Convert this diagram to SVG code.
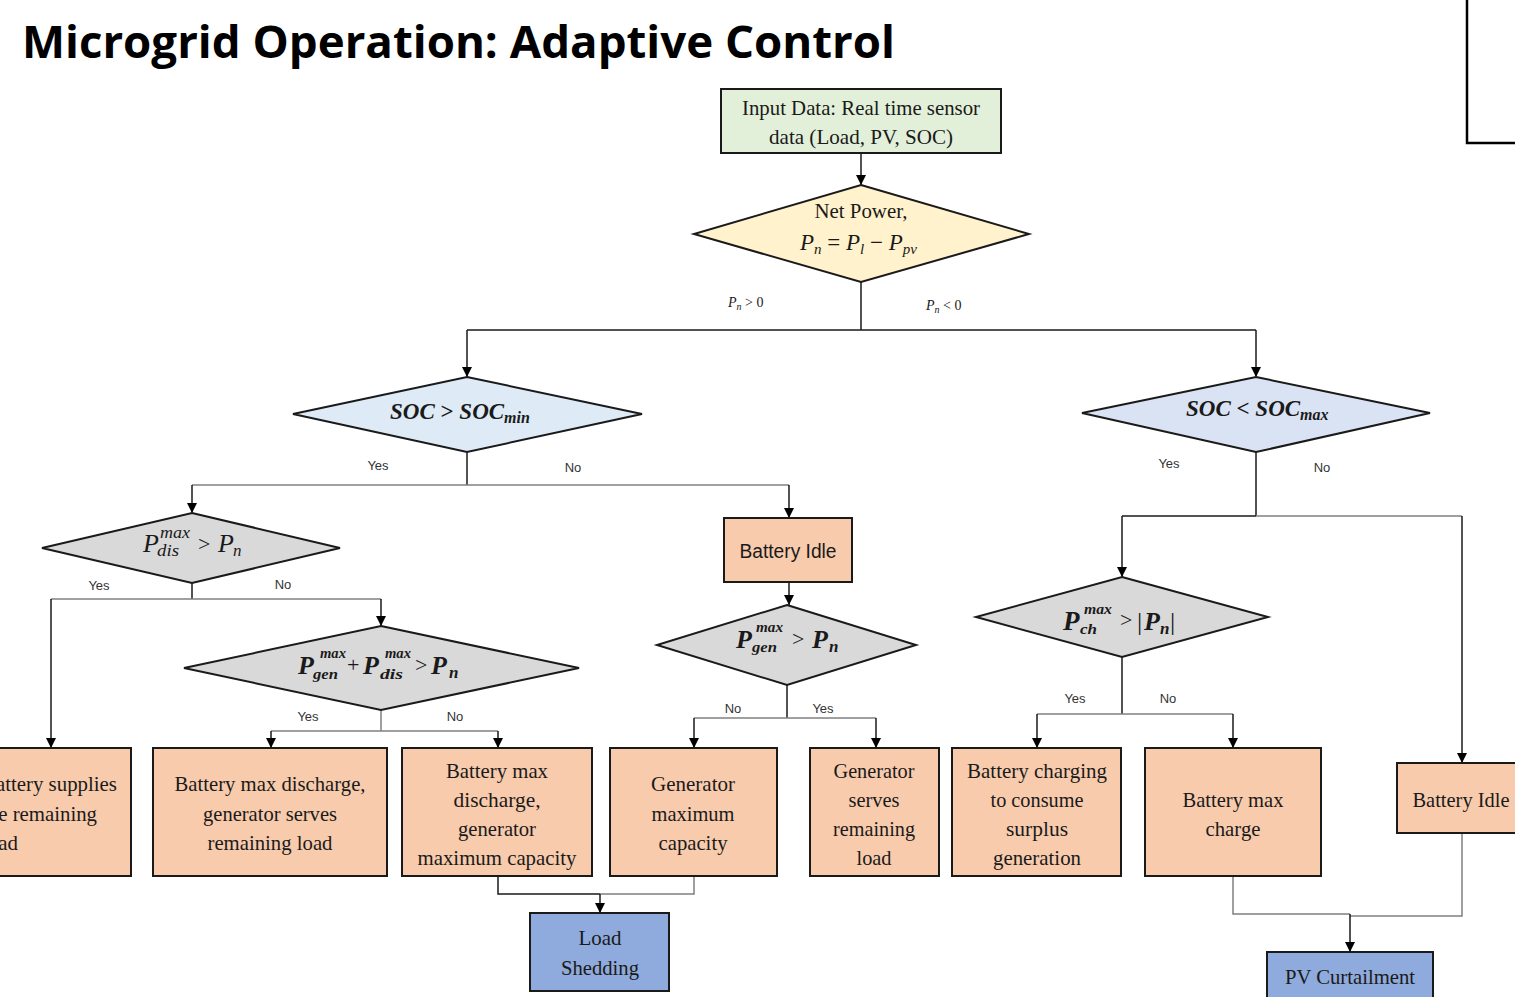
<svg xmlns="http://www.w3.org/2000/svg" width="1515" height="997" viewBox="0 0 1515 997">
<defs>
<marker id="ah" markerWidth="10" markerHeight="12" refX="10" refY="5" orient="auto" markerUnits="userSpaceOnUse" viewBox="0 0 10 10">
<path d="M0,0 L10,5 L0,10 z" fill="#000"/>
</marker>
<style>
.box{fill:#f8cbad;stroke:#1a1a1a;stroke-width:2}
.blue{fill:#8faadc;stroke:#1a1a1a;stroke-width:2}
.dia{stroke:#1a1a1a;stroke-width:2}
.gray{fill:#d9d9d9}
.t{font-family:"Liberation Serif",serif;font-size:22px;fill:#1a1a1a;text-anchor:middle}
.ts{font-family:"Liberation Sans",sans-serif;font-size:20px;fill:#1a1a1a;text-anchor:middle}
.lbl{font-family:"Liberation Sans",sans-serif;font-size:13px;fill:#333}
.mi{font-family:"Liberation Serif",serif;font-style:italic;fill:#1a1a1a}
.mb{font-family:"Liberation Serif",serif;font-style:italic;font-weight:bold;fill:#1a1a1a}
.mr{font-family:"Liberation Serif",serif;fill:#1a1a1a}
.c{fill:none;stroke:#1a1a1a;stroke-width:1.5}
.cg{fill:none;stroke:#808080;stroke-width:1.5}
.ca{fill:none;stroke:#1a1a1a;stroke-width:1.5;marker-end:url(#ah)}
</style>
</defs>
<rect width="1515" height="997" fill="#fff"/>
<text x="22" y="58" font-family="Open Sans, sans-serif" font-weight="bold" font-size="44" fill="#000" textLength="873" lengthAdjust="spacingAndGlyphs">Microgrid Operation: Adaptive Control</text>
<path d="M1467,0 V143 H1515" fill="none" stroke="#000" stroke-width="2.5"/>

<g id="connectors">
<path class="ca" d="M861,153 V185"/>
<path class="c" d="M861,282 V330 M467,330 H1256"/>
<path class="ca" d="M467,330 V377"/>
<path class="ca" d="M1256,330 V377"/>
<path class="c" d="M467,452 V485"/>
<path class="cg" d="M192,485 H789"/>
<path class="ca" d="M192,485 V513"/>
<path class="ca" d="M789,485 V518"/>
<path class="c" d="M192,583 V599"/>
<path class="cg" d="M51,599 H381"/>
<path class="ca" d="M51,599 V748"/>
<path class="ca" d="M381,599 V626"/>
<path class="cg" d="M381,710 V731 M271,731 H498"/>
<path class="ca" d="M271,731 V748"/>
<path class="ca" d="M498,731 V748"/>
<path class="ca" d="M789,582 V605"/>
<path class="c" d="M787,685 V718"/>
<path class="cg" d="M694,718 H876"/>
<path class="ca" d="M694,718 V748"/>
<path class="ca" d="M876,718 V748"/>
<path class="c" d="M1256,452 V516 M1122,516 H1256"/>
<path class="cg" d="M1256,516 H1462"/>
<path class="ca" d="M1122,516 V577"/>
<path class="ca" d="M1462,516 V763"/>
<path class="c" d="M1122,657 V714"/>
<path class="cg" d="M1037,714 H1233"/>
<path class="ca" d="M1037,714 V748"/>
<path class="ca" d="M1233,714 V748"/>
<path class="c" d="M498,876 V894 H600"/>
<path class="cg" d="M694,876 V894 H600"/>
<path class="ca" d="M600,894 V913"/>
<path class="cg" d="M1233,876 V914 H1350 M1462,833 V916 H1350"/>
<path class="ca" d="M1350,914 V952"/>
</g>

<g id="labels">
<text class="mi" x="728" y="307" font-size="14">P<tspan font-size="10" dy="3">n</tspan><tspan class="mr" font-style="normal" dy="-3"> &gt; 0</tspan></text>
<text class="mi" x="926" y="310" font-size="14">P<tspan font-size="10" dy="3">n</tspan><tspan font-style="normal" dy="-3"> &lt; 0</tspan></text>
<text class="lbl" x="378" y="470" text-anchor="middle">Yes</text>
<text class="lbl" x="573" y="472" text-anchor="middle">No</text>
<text class="lbl" x="1169" y="468" text-anchor="middle">Yes</text>
<text class="lbl" x="1322" y="472" text-anchor="middle">No</text>
<text class="lbl" x="99" y="590" text-anchor="middle">Yes</text>
<text class="lbl" x="283" y="589" text-anchor="middle">No</text>
<text class="lbl" x="308" y="721" text-anchor="middle">Yes</text>
<text class="lbl" x="455" y="721" text-anchor="middle">No</text>
<text class="lbl" x="733" y="713" text-anchor="middle">No</text>
<text class="lbl" x="823" y="713" text-anchor="middle">Yes</text>
<text class="lbl" x="1075" y="703" text-anchor="middle">Yes</text>
<text class="lbl" x="1168" y="703" text-anchor="middle">No</text>
</g>

<g id="input">
<rect x="721" y="89" width="280" height="64" fill="#e2f0d9" stroke="#1a1a1a" stroke-width="2"/>
<text class="t" x="861" y="115" textLength="238" lengthAdjust="spacingAndGlyphs">Input Data: Real time sensor</text>
<text class="t" x="861" y="144" textLength="184" lengthAdjust="spacingAndGlyphs">data (Load, PV, SOC)</text>
</g>

<g id="netpower">
<polygon class="dia" points="861,185 1029,234 861,282 694,234" fill="#fff2cc"/>
<text class="t" x="861" y="218" textLength="93" lengthAdjust="spacingAndGlyphs">Net Power,</text>
<text class="mi" x="800" y="250" font-size="23">P<tspan font-size="15" dy="4">n</tspan><tspan font-style="normal" dy="-4"> =  </tspan>P<tspan font-size="15" dy="4">l</tspan><tspan font-style="normal" dy="-4"> − </tspan>P<tspan font-size="15" dy="4">pv</tspan></text>
</g>

<g id="soc-min">
<polygon class="dia" points="467,377 642,414 467,452 293,414" fill="#deebf7"/>
<text class="mb" x="390" y="419" font-size="23">SOC <tspan font-style="normal">&gt;</tspan> SOC<tspan font-size="16" dy="4">min</tspan></text>
</g>

<g id="soc-max">
<polygon class="dia" points="1256,377 1430,413 1256,452 1082,413" fill="#dae3f3"/>
<text class="mb" x="1186" y="416" font-size="23">SOC <tspan font-style="normal">&lt;</tspan> SOC<tspan font-size="16" dy="4">max</tspan></text>
</g>

<g id="pdis">
<polygon class="dia gray" points="192,513 340,548 192,583 42,548"/>
<text class="mi" x="143" y="552" font-size="26">P</text>
<text class="mi" x="160" y="538" font-size="16" textLength="30" lengthAdjust="spacingAndGlyphs">max</text>
<text class="mi" x="157" y="556" font-size="16" textLength="22" lengthAdjust="spacingAndGlyphs">dis</text>
<text class="mr" x="198" y="551" font-size="22">&gt;</text>
<text class="mi" x="218" y="552" font-size="26">P</text>
<text class="mi" x="233" y="556" font-size="17">n</text>
</g>

<g id="pgendis">
<polygon class="dia gray" points="381,626 579,668 381,710 184,668"/>
<text class="mb" x="298" y="674" font-size="26">P</text>
<text class="mb" x="320" y="658" font-size="15" textLength="26" lengthAdjust="spacingAndGlyphs">max</text>
<text class="mb" x="313" y="679" font-size="15" textLength="25" lengthAdjust="spacingAndGlyphs">gen</text>
<text class="mr" x="347" y="672" font-size="22">+</text>
<text class="mb" x="363" y="674" font-size="26">P</text>
<text class="mb" x="385" y="658" font-size="15" textLength="26" lengthAdjust="spacingAndGlyphs">max</text>
<text class="mb" x="380" y="679" font-size="15" textLength="23" lengthAdjust="spacingAndGlyphs">dis</text>
<text class="mr" x="415" y="672" font-size="22">&gt;</text>
<text class="mb" x="431" y="674" font-size="26">P</text>
<text class="mb" x="449" y="678" font-size="17">n</text>
</g>

<g id="battery-idle-mid">
<rect class="box" x="724" y="518" width="128" height="64"/>
<text class="ts" x="788" y="558" textLength="97" lengthAdjust="spacingAndGlyphs">Battery Idle</text>
</g>

<g id="pgen">
<polygon class="dia gray" points="787,605 916,645 787,685 657,645"/>
<text class="mb" x="736" y="648" font-size="26">P</text>
<text class="mb" x="756" y="632" font-size="15" textLength="27" lengthAdjust="spacingAndGlyphs">max</text>
<text class="mb" x="752" y="652" font-size="15" textLength="25" lengthAdjust="spacingAndGlyphs">gen</text>
<text class="mr" x="792" y="646" font-size="22">&gt;</text>
<text class="mb" x="812" y="648" font-size="26">P</text>
<text class="mb" x="829" y="652" font-size="17">n</text>
</g>

<g id="pch">
<polygon class="dia gray" points="1122,577 1268,617 1122,657 976,617"/>
<text class="mb" x="1063" y="630" font-size="27">P</text>
<text class="mb" x="1084" y="614" font-size="15" textLength="28" lengthAdjust="spacingAndGlyphs">max</text>
<text class="mb" x="1080" y="634" font-size="15" textLength="17" lengthAdjust="spacingAndGlyphs">ch</text>
<text class="mr" x="1120" y="627" font-size="22">&gt;</text>
<text class="mr" x="1137" y="630" font-size="26">|</text>
<text class="mb" x="1144" y="630" font-size="26">P</text>
<text class="mb" x="1160" y="634" font-size="17">n</text>
<text class="mr" x="1170" y="630" font-size="26">|</text>
</g>

<g id="box-battery-supplies">
<rect class="box" x="-30" y="748" width="161" height="128"/>
<text class="t" x="-18" y="791" textLength="135" lengthAdjust="spacingAndGlyphs" style="text-anchor:start">Battery supplies</text>
<text class="t" x="-18" y="821" textLength="115" lengthAdjust="spacingAndGlyphs" style="text-anchor:start">the remaining</text>
<text class="t" x="-18" y="850" textLength="36" lengthAdjust="spacingAndGlyphs" style="text-anchor:start">load</text>
</g>

<g id="box-max-discharge-gen">
<rect class="box" x="153" y="748" width="234" height="128"/>
<text class="t" x="270" y="791" textLength="191" lengthAdjust="spacingAndGlyphs">Battery max discharge,</text>
<text class="t" x="270" y="821" textLength="134" lengthAdjust="spacingAndGlyphs">generator serves</text>
<text class="t" x="270" y="850" textLength="125" lengthAdjust="spacingAndGlyphs">remaining load</text>
</g>

<g id="box-max-discharge-genmax">
<rect class="box" x="402" y="748" width="190" height="128"/>
<text class="t" x="497" y="778" textLength="102" lengthAdjust="spacingAndGlyphs">Battery max</text>
<text class="t" x="497" y="807" textLength="87" lengthAdjust="spacingAndGlyphs">discharge,</text>
<text class="t" x="497" y="836" textLength="78" lengthAdjust="spacingAndGlyphs">generator</text>
<text class="t" x="497" y="865" textLength="159" lengthAdjust="spacingAndGlyphs">maximum capacity</text>
</g>

<g id="box-gen-max">
<rect class="box" x="610" y="748" width="167" height="128"/>
<text class="t" x="693" y="791" textLength="84" lengthAdjust="spacingAndGlyphs">Generator</text>
<text class="t" x="693" y="821" textLength="83" lengthAdjust="spacingAndGlyphs">maximum</text>
<text class="t" x="693" y="850" textLength="69" lengthAdjust="spacingAndGlyphs">capacity</text>
</g>

<g id="box-gen-serves">
<rect class="box" x="810" y="748" width="129" height="128"/>
<text class="t" x="874" y="778" textLength="81" lengthAdjust="spacingAndGlyphs">Generator</text>
<text class="t" x="874" y="807" textLength="51" lengthAdjust="spacingAndGlyphs">serves</text>
<text class="t" x="874" y="836" textLength="82" lengthAdjust="spacingAndGlyphs">remaining</text>
<text class="t" x="874" y="865" textLength="35" lengthAdjust="spacingAndGlyphs">load</text>
</g>

<g id="box-charging">
<rect class="box" x="952" y="748" width="169" height="128"/>
<text class="t" x="1037" y="778" textLength="140" lengthAdjust="spacingAndGlyphs">Battery charging</text>
<text class="t" x="1037" y="807" textLength="93" lengthAdjust="spacingAndGlyphs">to consume</text>
<text class="t" x="1037" y="836" textLength="62" lengthAdjust="spacingAndGlyphs">surplus</text>
<text class="t" x="1037" y="865" textLength="88" lengthAdjust="spacingAndGlyphs">generation</text>
</g>

<g id="box-max-charge">
<rect class="box" x="1145" y="748" width="176" height="128"/>
<text class="t" x="1233" y="807" textLength="101" lengthAdjust="spacingAndGlyphs">Battery max</text>
<text class="t" x="1233" y="836" textLength="55" lengthAdjust="spacingAndGlyphs">charge</text>
</g>

<g id="battery-idle-right">
<rect class="box" x="1397" y="763" width="130" height="70"/>
<text class="t" x="1461" y="807" textLength="97" lengthAdjust="spacingAndGlyphs">Battery Idle</text>
</g>

<g id="load-shedding">
<rect class="blue" x="530" y="913" width="139" height="78"/>
<text class="t" x="600" y="945" textLength="43" lengthAdjust="spacingAndGlyphs">Load</text>
<text class="t" x="600" y="975" textLength="78" lengthAdjust="spacingAndGlyphs">Shedding</text>
</g>

<g id="pv-curtailment">
<rect class="blue" x="1267" y="952" width="166" height="60"/>
<text class="t" x="1350" y="984" textLength="130" lengthAdjust="spacingAndGlyphs">PV Curtailment</text>
</g>
</svg>
